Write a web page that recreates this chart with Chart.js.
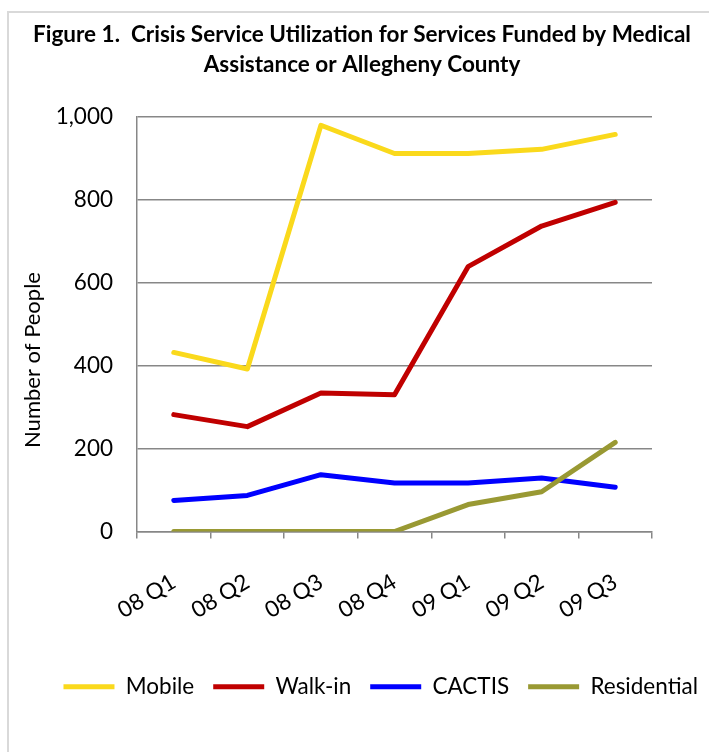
<!DOCTYPE html>
<html lang="en">
<head>
    <meta charset="UTF-8">
    <title>Figure 1. Crisis Service Utilization</title>
    <script src="https://cdnjs.cloudflare.com/ajax/libs/Chart.js/4.4.1/chart.umd.js"></script>
    <style>
        html, body {
            margin: 0;
            padding: 0;
            background: #fff;
            overflow: hidden;
            width: 709px;
            height: 752px;
        }

        .frame {
            position: absolute;
            left: 7px;
            top: 11px;
            width: 760px;
            height: 800px;
            border: 2px solid #d9d9d9;
        }

        #chart {
            position: absolute;
            left: 0;
            top: 0;
        }
    </style>
</head>
<body>
    <div class="frame"></div>
    <canvas id="chart" width="730" height="752"></canvas>

    <script>
        // values
        const quarters = ['08 Q1', '08 Q2', '08 Q3', '08 Q4', '09 Q1', '09 Q2', '09 Q3'];
        const mobile = [432, 392, 980, 912, 912, 922, 958];
        const walkIn = [282, 253, 334, 330, 639, 737, 794];
        const cactis = [75, 87, 137, 117, 117, 129, 107];
        const residential = [0, 0, 0, 0, 65, 96, 215];
        const yTicks = [0, 200, 400, 600, 800, 1000];

        const gridGray = '#878787';
        Chart.defaults.font.family = 'Lato, "Noto Sans", sans-serif';
        Chart.defaults.color = '#000';

        function series(label, data, color, order) {
            return {
                label: label,
                data: data,
                borderColor: color,
                backgroundColor: color,
                borderWidth: 5,
                borderCapStyle: 'round',
                borderJoinStyle: 'round',
                pointRadius: 0,
                tension: 0,
                order: order
            };
        }

        // y axis title sits lower than the axis centre in the original
        const yTitle = {
            id: 'yTitle',
            afterDraw(chart) {
                const ctx = chart.ctx;
                ctx.save();
                ctx.translate(33, 360);
                ctx.rotate(-Math.PI / 2);
                ctx.font = '22px Lato, "Noto Sans", sans-serif';
                ctx.fillStyle = '#000';
                ctx.textAlign = 'center';
                ctx.textBaseline = 'middle';
                ctx.fillText('Number of People', 0, 0);
                ctx.restore();
            }
        };

        new Chart(document.getElementById('chart'), {
            type: 'line',
            data: {
                labels: quarters,
                datasets: [
                    series('Mobile', mobile, '#fad91c', 4),
                    series('Walk-in', walkIn, '#c00000', 3),
                    series('CACTIS', cactis, '#0000ff', 2),
                    series('Residential', residential, '#999933', 1)
                ]
            },
            options: {
                responsive: false,
                animation: false,
                devicePixelRatio: 1,
                events: [],
                layout: {
                    padding: { left: 7, right: 13, top: 0, bottom: 44 }
                },
                plugins: {
                    title: {
                        display: true,
                        text: ['Figure 1.  Crisis Service Utilization for Services Funded by Medical',
                               'Assistance or Allegheny County'],
                        color: '#000',
                        font: { size: 22.5, weight: 'bold', lineHeight: '30px' },
                        padding: { top: 20, bottom: 37 }
                    },
                    legend: {
                        position: 'bottom',
                        align: 'end',
                        labels: {
                            usePointStyle: true,
                            pointStyle: 'line',
                            pointStyleWidth: 51,
                            padding: 19,
                            font: { size: 22.5 },
                            sort: (a, b) => a.datasetIndex - b.datasetIndex
                        }
                    },
                    tooltip: { enabled: false }
                },
                scales: {
                    x: {
                        offset: true,
                        afterFit(scale) {
                            scale.height = 125;
                            scale.paddingRight = 78;
                            scale.paddingLeft = 0;
                        },
                        grid: {
                            offset: true,
                            drawOnChartArea: false,
                            drawTicks: true,
                            tickLength: 7,
                            color: gridGray,
                            lineWidth: 1.5
                        },
                        border: { display: true, color: gridGray, width: 1.5 },
                        ticks: {
                            autoSkip: false,
                            minRotation: 31,
                            maxRotation: 31,
                            padding: 30,
                            font: { size: 22.5 }
                        }
                    },
                    y: {
                        min: 0,
                        max: 1000,
                        afterFit(scale) {
                            scale.width = 130;
                        },
                        afterBuildTicks(scale) {
                            scale.ticks = yTicks.map(v => ({ value: v }));
                        },
                        grid: {
                            drawTicks: false,
                            color: gridGray,
                            lineWidth: 1.5
                        },
                        border: { display: true, color: gridGray, width: 1.5 },
                        ticks: {
                            padding: 24,
                            font: { size: 22.5 }
                        }
                    }
                }
            },
            plugins: [yTitle]
        });
    </script>
</body>
</html>
